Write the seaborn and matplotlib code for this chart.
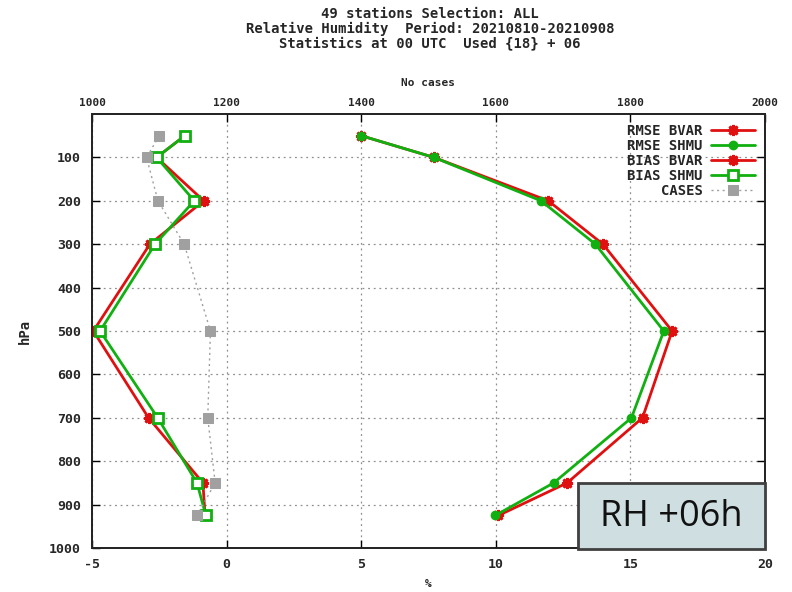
import matplotlib
matplotlib.use("Agg")
import matplotlib.pyplot as plt
from matplotlib.patches import Rectangle
import seaborn as sns
import pandas as pd

# Pressure levels (hPa)
levels = [50, 100, 200, 300, 500, 700, 850, 925]

# Relative humidity statistics (%)
rmse_bvar = [5.0, 7.7, 11.95, 13.98, 16.55, 15.45, 12.65, 10.1]
rmse_shmu = [5.0, 7.7, 11.68, 13.70, 16.24, 15.04, 12.15, 9.98]
bias_bvar = [-1.55, -2.6, -0.85, -2.85, -4.95, -2.9, -0.88, -0.8]
bias_shmu = [-1.55, -2.6, -1.2, -2.66, -4.7, -2.56, -1.1, -0.77]

# Number of cases per level
cases = [1100, 1081, 1098, 1137, 1176, 1172, 1183, 1156]

x_ticks = [-5, 0, 5, 10, 15, 20]
x2_ticks = [1000, 1200, 1400, 1600, 1800, 2000]
y_ticks = [100, 200, 300, 400, 500, 600, 700, 800, 900, 1000]

title_lines = [
    "49 stations Selection: ALL",
    "Relative Humidity  Period: 20210810-20210908",
    "Statistics at 00 UTC  Used {18} + 06",
]

sns.set_theme(style="white")
mono = ["DejaVu Sans Mono", "DejaVu Sans"]
plt.rcParams["font.family"] = mono

RED = "#e01010"
GREEN = "#10b010"
GRAY = "#a0a0a0"

fig = plt.figure(figsize=(7.92, 5.92), dpi=100)
fig.patch.set_facecolor("white")
ax = fig.add_axes([92 / 792, 44 / 592, 673 / 792, 434 / 592])
ax.set_facecolor("white")

df = pd.DataFrame({
    "hPa": levels,
    "RMSE BVAR": rmse_bvar,
    "RMSE SHMU": rmse_shmu,
    "BIAS BVAR": bias_bvar,
    "BIAS SHMU": bias_shmu,
    "CASES": cases,
})

star = (8, 2, 0)
style = {
    "RMSE BVAR": dict(color=RED, marker=star, markersize=8, markeredgewidth=2.0,
                      markeredgecolor=RED),
    "RMSE SHMU": dict(color=GREEN, marker="o", markersize=6, markeredgewidth=1.0,
                      markeredgecolor=GREEN, markerfacecolor=GREEN),
    "BIAS BVAR": dict(color=RED, marker=star, markersize=8, markeredgewidth=2.0,
                      markeredgecolor=RED),
    "BIAS SHMU": dict(color=GREEN, marker="s", markersize=6.5, markeredgewidth=2.0,
                      markeredgecolor=GREEN, markerfacecolor="white"),
}

for name in ["RMSE BVAR", "RMSE SHMU", "BIAS BVAR", "BIAS SHMU"]:
    sns.lineplot(data=df, x=name, y="hPa", sort=False, estimator=None,
                 linewidth=2.0, label=name, legend=False, ax=ax, zorder=3,
                 **style[name])

ax.set_xlim(-5, 20)
ax.set_ylim(1000, 0)
ax.set_xticks(x_ticks)
ax.set_yticks(y_ticks)
ax.set_xticklabels([str(t) for t in x_ticks], fontsize=9.5, fontweight="bold")
ax.set_yticklabels([str(t) for t in y_ticks], fontsize=9.5, fontweight="bold")
ax.grid(True, color="#909090", linestyle=(0, (1.5, 3)), linewidth=0.9)
ax.tick_params(axis="both", direction="in", length=6, width=1, color="black",
               pad=7, bottom=True, left=True, right=True, top=False)
ax.tick_params(axis="y", pad=8)
for s in ax.spines.values():
    s.set_color("black")
    s.set_linewidth(1.2)
ax.set_xlabel("%", fontsize=8, fontweight="bold", labelpad=6)
ax.set_ylabel("hPa", fontsize=10, fontweight="bold", labelpad=12)

# Number of cases on the top axis
ax2 = ax.twiny()
sns.lineplot(data=df, x="CASES", y="hPa", sort=False, estimator=None,
             color=GRAY, linestyle=(0, (1.5, 2.5)), linewidth=1.0,
             marker="s", markersize=7, markeredgecolor=GRAY, markerfacecolor=GRAY,
             label="CASES", legend=False, ax=ax2, zorder=2)
ax2.set_xlim(1000, 2000)
ax2.set_ylim(1000, 0)
ax2.set_xticks(x2_ticks)
ax2.set_xticklabels([str(t) for t in x2_ticks], fontsize=8, fontweight="bold")
ax2.tick_params(axis="x", direction="in", length=6, width=1, color="black", pad=4)
ax2.set_xlabel("No cases", fontsize=8, fontweight="bold", labelpad=9)
ax2.grid(False)

h1, l1 = ax.get_legend_handles_labels()
h2, l2 = ax2.get_legend_handles_labels()
leg = ax2.legend(h1 + h2, l1 + l2, loc="upper right", frameon=False,
                 markerfirst=False, handlelength=3.2, handletextpad=0.6,
                 labelspacing=0.08, borderaxespad=0.3, borderpad=0.4,
                 prop={"family": mono, "weight": "bold", "size": 10})
for t in leg.get_texts():
    t.set_ha("right")
leg._legend_box.align = "right"

# Forecast-range label box
box = Rectangle((578 / 792, 1 - 549 / 592), 187 / 792, 66 / 592,
                transform=fig.transFigure, facecolor="#cfdee0",
                edgecolor="#404040", linewidth=2, zorder=10)
fig.patches.append(box)
fig.text(671.5 / 792, 1 - 516.5 / 592, "RH +06h", ha="center", va="center",
         fontsize=26, family="Open Sans", color="#111111", zorder=11)

for i, line in enumerate(title_lines):
    fig.text(430 / 792, 1 - (14 + 14.5 * i) / 592, line, ha="center",
             va="center", fontsize=10, fontweight="bold", family=mono)

fig.savefig("out.png", dpi=100, facecolor="white")
